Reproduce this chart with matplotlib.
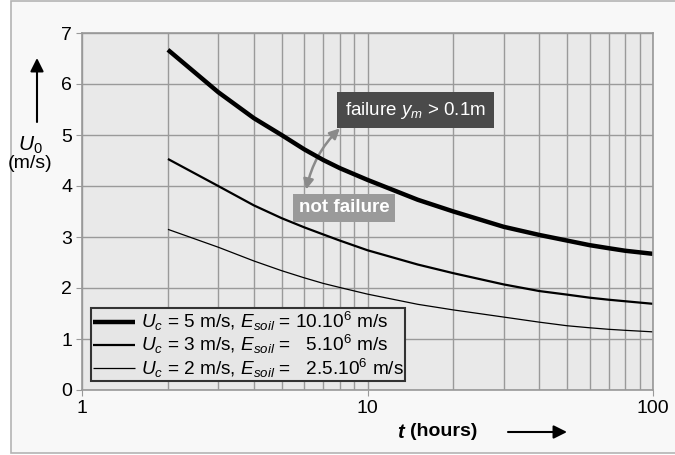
import numpy as np
import matplotlib
matplotlib.use("Agg")
import matplotlib.pyplot as plt
from matplotlib.patches import Rectangle, FancyArrowPatch
from matplotlib.ticker import LogLocator, FixedLocator, NullFormatter

plt.rcParams['font.family'] = ['Liberation Sans', 'DejaVu Sans']
plt.rcParams['mathtext.fontset'] = 'custom'
plt.rcParams['mathtext.rm'] = 'Liberation Sans'
plt.rcParams['mathtext.it'] = 'Liberation Sans:italic'
plt.rcParams['mathtext.bf'] = 'Liberation Sans:bold'

# data
t_hours = [2, 3, 4, 5, 6, 7, 8, 10, 15, 20, 30, 40, 50, 60, 70, 80, 100]
u0_uc5 = [6.67, 5.84, 5.33, 5.00, 4.72, 4.51, 4.35, 4.12, 3.73, 3.50, 3.20, 3.04, 2.93, 2.84, 2.78, 2.73, 2.67]
u0_uc3 = [4.53, 4.00, 3.62, 3.37, 3.19, 3.05, 2.93, 2.74, 2.46, 2.29, 2.07, 1.94, 1.87, 1.81, 1.77, 1.74, 1.69]
u0_uc2 = [3.15, 2.80, 2.53, 2.34, 2.20, 2.09, 2.01, 1.88, 1.68, 1.57, 1.43, 1.33, 1.26, 1.22, 1.19, 1.17, 1.14]

labels = [r"$U_c$ = 5 m/s, $E_{soil}$ = 10.10$^6$ m/s",
          r"$U_c$ = 3 m/s, $E_{soil}$ =   5.10$^6$ m/s",
          r"$U_c$ = 2 m/s, $E_{soil}$ =   2.5.10$^6$ m/s"]
widths = [3.2, 1.6, 0.9]

W, H = 675, 455
fig = plt.figure(figsize=(W / 100, H / 100), dpi=100)
fig.patch.set_facecolor('white')
fig.patches.append(Rectangle((11 / W, 2 / H), 1.2, (H - 3) / H, transform=fig.transFigure,
                             facecolor='#f8f8f8', edgecolor='#b4b4b4', lw=1.2, zorder=-10))

ax = fig.add_axes([82 / W, (H - 390) / H, 571 / W, 357 / H])
ax.set_facecolor('#e9e9e9')

for u, lw, lab in zip([u0_uc5, u0_uc3, u0_uc2], widths, labels):
    ax.plot(t_hours, u, color='black', lw=lw, label=lab, solid_capstyle='butt')

ax.set_xscale('log')
ax.set_xlim(1, 100)
ax.set_ylim(0, 7)
ax.xaxis.set_major_locator(FixedLocator([1, 10, 100]))
ax.xaxis.set_minor_locator(LogLocator(base=10, subs=np.arange(2, 10)))
ax.xaxis.set_minor_formatter(NullFormatter())
ax.set_xticklabels(['1', '10', '100'])
ax.set_yticks(range(0, 8))
ax.grid(True, which='both', color='#9a9a9a', lw=1.0)
ax.set_axisbelow(True)
ax.tick_params(which='major', length=4, color='#999999', labelsize=14, pad=3)
ax.tick_params(which='minor', length=0)
for s in ax.spines.values():
    s.set_color('#999999')
    s.set_linewidth(1.2)

leg = ax.legend(loc='lower left', bbox_to_anchor=(0.016, 0.024), borderaxespad=0,
                fontsize=13.7, handlelength=2.2, handletextpad=0.3, labelspacing=0.0,
                borderpad=0.1, fancybox=False, framealpha=1, facecolor='#e6e6e6',
                edgecolor='#333333')
leg.get_frame().set_linewidth(1.5)

# annotations
ax.text(14.7, 5.49, r"failure $y_m$ > 0.1m", color='white', fontsize=13.5, ha='center', va='center',
        bbox=dict(boxstyle='square,pad=0.42', fc='#4a4a4a', ec='none'))
ax.text(8.27, 3.57, "not failure", color='white', fontsize=13.5, fontweight='bold', ha='center', va='center',
        bbox=dict(boxstyle='square,pad=0.3', fc='#9a9a9a', ec='none'))
ax.add_patch(FancyArrowPatch((8.0, 5.13), (6.1, 3.93), arrowstyle='<|-|>,head_length=6,head_width=3',
                             connectionstyle='arc3,rad=0.15', color='#8a8a8a', lw=1.8,
                             shrinkA=0, shrinkB=0))

# axis labels with arrows
fig.text(30 / W, 1 - 145 / H, r"$U_0$", fontsize=15, ha='center', va='center')
fig.text(30 / W, 1 - 164 / H, "(m/s)", fontsize=14, ha='center', va='center')
fig.patches.append(FancyArrowPatch((37 / W, 1 - 122 / H), (37 / W, 1 - 58 / H), transform=fig.transFigure,
                                   arrowstyle='-|>,head_length=8,head_width=4', color='black', lw=1.5,
                                   shrinkA=0, shrinkB=0))
fig.text(397 / W, 1 - 432 / H, "t", fontsize=14.5, fontstyle='italic', fontweight='bold', ha='left', va='center')
fig.text(410 / W, 1 - 432 / H, "(hours)", fontsize=14, fontweight='bold', ha='left', va='center')
fig.patches.append(FancyArrowPatch((508 / W, 1 - 432 / H), (567 / W, 1 - 432 / H), transform=fig.transFigure,
                                   arrowstyle='-|>,head_length=8,head_width=4', color='black', lw=1.5,
                                   shrinkA=0, shrinkB=0))

fig.savefig('out.png', dpi=100)
